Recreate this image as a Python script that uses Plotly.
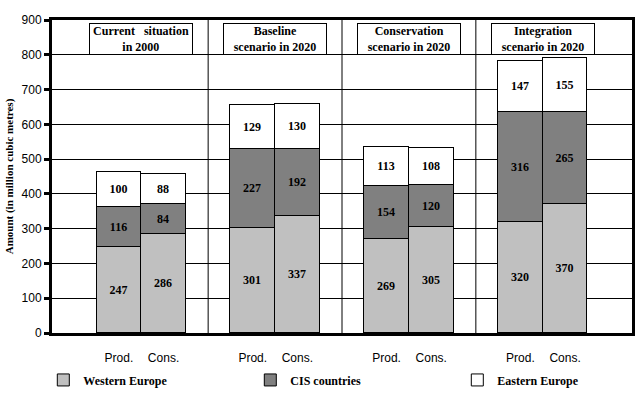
import plotly.graph_objects as go

# Data
positions = [1, 2, 4, 5, 7, 8, 10, 11]
bar_labels = ["Prod.", "Cons.", "Prod.", "Cons.", "Prod.", "Cons.", "Prod.", "Cons."]
western = [247, 286, 301, 337, 269, 305, 320, 370]
cis = [116, 84, 227, 192, 154, 120, 316, 265]
eastern = [100, 88, 129, 130, 113, 108, 147, 155]
group_titles = ["Current&nbsp;&nbsp;&nbsp;situation<br>in 2000", "Baseline<br>scenario in 2020",
                "Conservation<br>scenario in 2020", "Integration<br>scenario in 2020"]
group_centers = [1.5, 4.5, 7.5, 10.5]
separators = [3, 6, 9]
y_ticks = [0, 100, 200, 300, 400, 500, 600, 700, 800, 900]

serif = "Liberation Serif, Times New Roman, serif"
sans = "Liberation Sans Narrow, Arial Narrow, Liberation Sans, Arial, sans-serif"

fig = go.Figure()
for name, vals, color in [("Western Europe", western, "#C0C0C0"),
                          ("CIS countries", cis, "#808080"),
                          ("Eastern Europe", eastern, "#FFFFFF")]:
    fig.add_trace(go.Bar(
        x=positions, y=vals, name=name, width=1,
        marker=dict(color=color, line=dict(color="black", width=1)),
        text=["<b>%d</b>" % v for v in vals], textposition="inside",
        insidetextanchor="middle", textangle=0,
        textfont=dict(family=serif, size=12, color="black"),
    ))

shapes = []
for s in separators:
    shapes.append(dict(type="line", xref="x", yref="paper", x0=s, x1=s, y0=0, y1=1,
                       line=dict(color="black", width=1), layer="below"))

annotations = []
for t, c in zip(group_titles, group_centers):
    annotations.append(dict(x=c, y=845, xref="x", yref="y", text="<b>" + t + "</b>",
                            showarrow=False, bgcolor="white", bordercolor="black",
                            borderwidth=1, width=100, height=28, borderpad=1,
                            font=dict(family=serif, size=12, color="black")))

fig.update_layout(
    template="none",
    width=642, height=394,
    margin=dict(l=52, r=10, t=20, b=61, autoexpand=False),
    paper_bgcolor="white", plot_bgcolor="white",
    barmode="stack", bargap=0,
    showlegend=True,
    legend=dict(orientation="h", x=-0.015, xanchor="left", y=-0.15, yanchor="middle",
                entrywidth=162, entrywidthmode="pixels", traceorder="normal",
                bgcolor="rgba(0,0,0,0)",
                font=dict(family=serif, size=12, color="black", weight="bold"),
                itemwidth=30),
    shapes=shapes, annotations=annotations,
    xaxis=dict(range=[-0.5, 12.5], tickvals=positions, ticktext=bar_labels,
               showgrid=False, zeroline=False, showline=True, linecolor="black",
               linewidth=3, mirror=True, ticks="", ticklabelstandoff=12,
               automargin=False,
               tickfont=dict(family=sans, size=12, color="black")),
    yaxis=dict(range=[0, 900], tickvals=y_ticks, showgrid=True, gridcolor="black",
               gridwidth=1, zeroline=False, showline=True, linecolor="black",
               linewidth=3, mirror=True, ticks="outside", ticklen=5, tickwidth=3,
               tickcolor="black", automargin=False,
               tickfont=dict(family=sans, size=12, color="black"),
               title=dict(text="<b>Amount (in million cubic metres)</b>", standoff=6,
                          font=dict(family=serif, size=11, color="black"))),
)

fig.write_html("out.html", config={"displayModeBar": False},
               post_script="document.body.style.margin='0';")
